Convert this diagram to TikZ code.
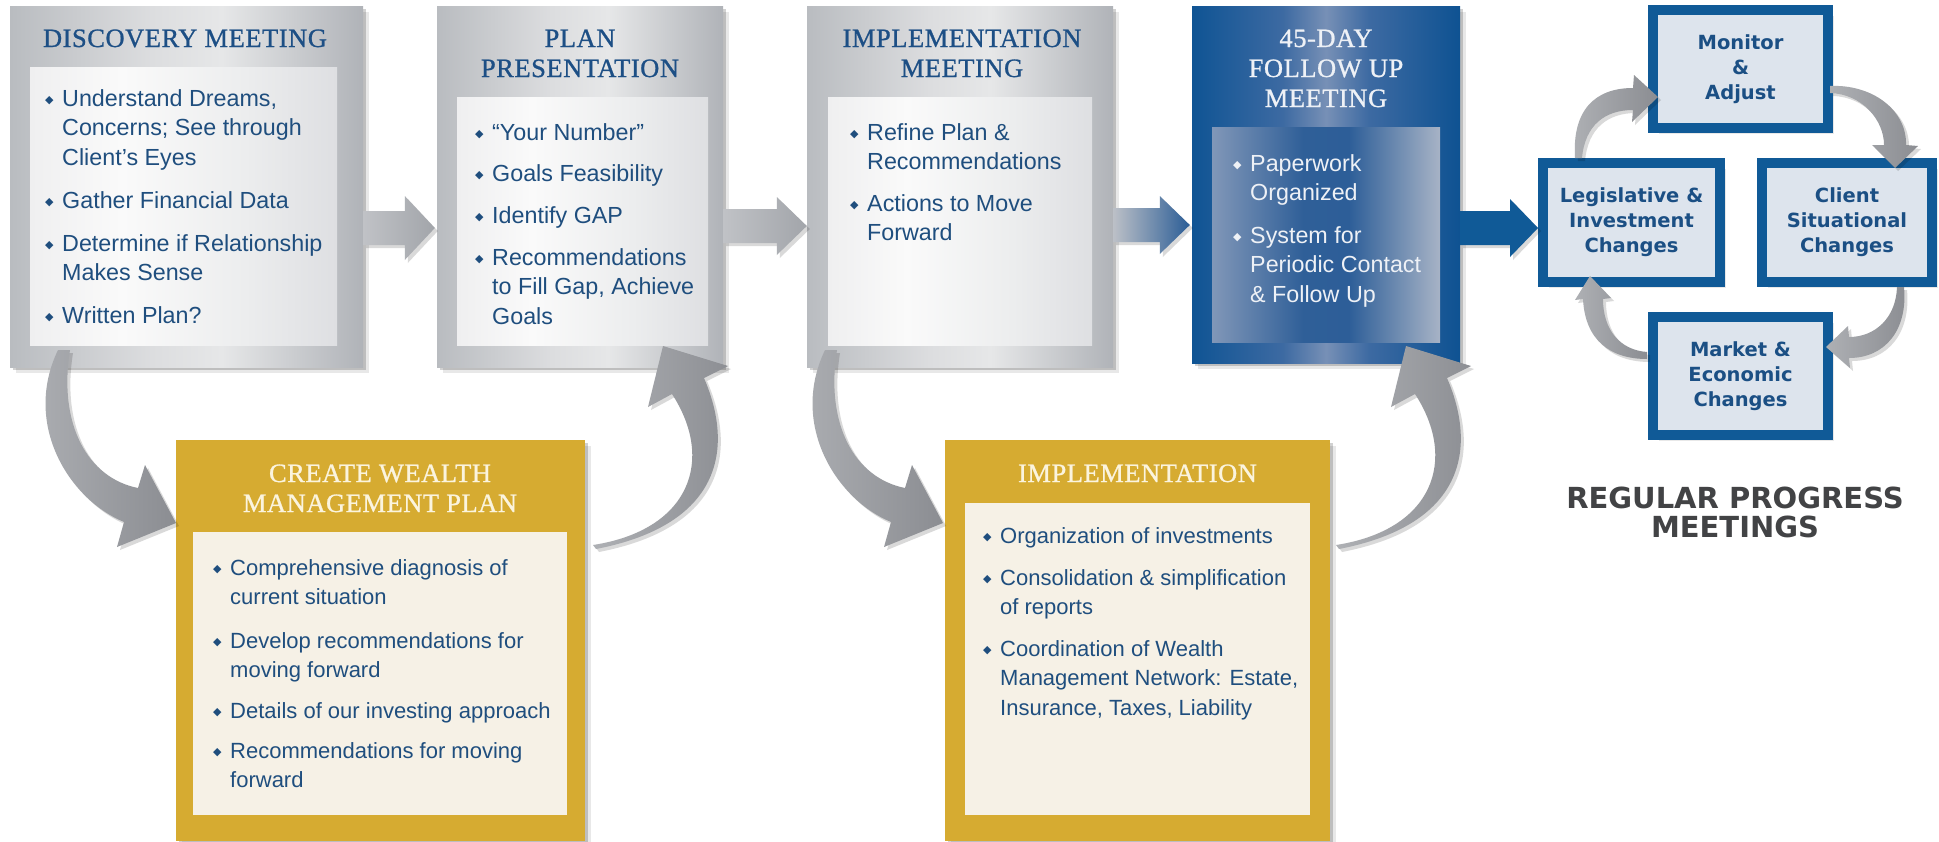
\documentclass[tikz,border=0pt]{standalone}
\usepackage{fontspec}
\setmainfont{Liberation Sans}
\newfontfamily\titlef{Liberation Serif}[LetterSpace=2.0,FakeBold=0.9]
\newfontfamily\dvs{DejaVu Sans}
\usetikzlibrary{shadows,calc}

\definecolor{tblue}{HTML}{1D4F85}
\definecolor{txtblue}{HTML}{1F4E7E}
\definecolor{rtxt}{HTML}{1B4F84}
\definecolor{gold}{HTML}{D6AB31}
\definecolor{cream}{HTML}{F6F1E6}
\definecolor{creamtxt}{HTML}{FBF4DE}
\definecolor{bblue}{HTML}{105A97}
\definecolor{lbox}{HTML}{DDE4ED}
\definecolor{dgray}{HTML}{424345}
\definecolor{m1}{HTML}{B9BCC0}
\definecolor{m2}{HTML}{DCDDDF}
\definecolor{m3}{HTML}{E6E7E8}
\definecolor{m4}{HTML}{B0B3B8}
\definecolor{p1}{HTML}{EFEFF0}
\definecolor{p2}{HTML}{FAFAFA}
\definecolor{p3}{HTML}{ECEDEE}
\definecolor{p4}{HTML}{DEDFE2}
\definecolor{b1}{HTML}{0F5494}
\definecolor{b2}{HTML}{3D6AA2}
\definecolor{b3}{HTML}{7790B6}
\definecolor{b4}{HTML}{0E5292}
\definecolor{q1}{HTML}{8197B8}
\definecolor{q2}{HTML}{2F5F98}
\definecolor{q3}{HTML}{2D5E98}
\definecolor{q4}{HTML}{A7B3C6}
\definecolor{ga1}{HTML}{C0C2C6}
\definecolor{ga2}{HTML}{A2A5AA}
\definecolor{gb1}{HTML}{BCC0C7}
\definecolor{gb2}{HTML}{2B5D96}
\definecolor{ca1}{HTML}{AEB0B4}
\definecolor{ca2}{HTML}{8B8D92}
\definecolor{whitetxt}{HTML}{EEF1F6}

\pgfdeclarehorizontalshading{metal}{100bp}{color(0bp)=(m1); color(25bp)=(m1); color(45bp)=(m2); color(55bp)=(m3); color(75bp)=(m4); color(100bp)=(m4)}
\pgfdeclarehorizontalshading{panel}{100bp}{color(0bp)=(p1); color(25bp)=(p1); color(40bp)=(p2); color(60bp)=(p3); color(75bp)=(p4); color(100bp)=(p4)}
\pgfdeclarehorizontalshading{bmetal}{100bp}{color(0bp)=(b1); color(25bp)=(b1); color(42bp)=(b2); color(50bp)=(b3); color(58bp)=(b2); color(75bp)=(b4); color(100bp)=(b4)}
\pgfdeclarehorizontalshading{bpanel}{100bp}{color(0bp)=(q1); color(25bp)=(q1); color(45bp)=(q2); color(55bp)=(q3); color(75bp)=(q4); color(100bp)=(q4)}

\newcommand{\bul}{\makebox[17pt][l]{\raisebox{2.5pt}{\dvs\fontsize{11}{11}\selectfont ◆}}}
\newcommand{\itm}[1]{\bul\begin{tabular}[t]{@{}l@{}}#1\end{tabular}}
\newcommand{\fatarrow}[7]{%
  \path[#1] ($(#2)+(0,-#4)$) -- ($(#3)+(-#6,-#4)$) -- ($(#3)+(-#6,-#5)$) -- (#3)
    -- ($(#3)+(-#6,#5)$) -- ($(#3)+(-#6,#4)$) -- ($(#2)+(0,#4)$) -- cycle;}

\tikzset{
  softshadow/.style={drop shadow={shadow xshift=3pt,shadow yshift=-3pt,opacity=.18,fill=black},
                     drop shadow={shadow xshift=6pt,shadow yshift=-6pt,opacity=.09,fill=black}},
  lightshadow/.style={drop shadow={shadow xshift=3pt,shadow yshift=-3pt,opacity=.15,fill=black}},
  graybox/.style={rectangle, inner sep=0pt, shade, shading=metal, softshadow},
  graypanel/.style={rectangle, inner sep=0pt, shade, shading=panel},
  bluebox/.style={rectangle, inner sep=0pt, shade, shading=bmetal, softshadow},
  bluepanel/.style={rectangle, inner sep=0pt, shade, shading=bpanel},
  goldbox/.style={rectangle, inner sep=0pt, fill=gold, softshadow},
  goldpanel/.style={rectangle, inner sep=0pt, fill=cream},
  itemtxt/.style={anchor=base west, inner sep=0pt, text=txtblue, font=\fontsize{23.3}{29.5}\selectfont},
  itemsmall/.style={itemtxt, font=\fontsize{22}{29.5}\selectfont},
  titletxt/.style={anchor=base, inner sep=0pt, text=tblue, font=\titlef\fontsize{26.5}{30}\selectfont},
  rbox/.style={rectangle, draw=bblue, line width=10pt, fill=lbox, inner sep=0pt, softshadow,
               align=center, text=rtxt, font=\dvs\bfseries\fontsize{19.5}{25}\selectfont},
  rptxt/.style={anchor=base, inner sep=0pt, text=dgray, font=\dvs\bfseries\fontsize{29}{30}\selectfont},
  curvearrow/.style={lightshadow, left color=ca1, right color=ca2},
}

\begin{document}
\begin{tikzpicture}[x=1pt,y=-1pt]
\useasboundingbox (0,0) rectangle (1939,841);
\fill[white] (0,0) rectangle (1939,841);

% ---------- top row boxes ----------
\node[graybox, minimum width=353pt, minimum height=361pt] (disc) at (186.5,186.5) {};
\node[graypanel, minimum width=307pt, minimum height=278pt] (discp) at (183.5,206) {};
\node[graybox, minimum width=286pt, minimum height=361pt] (plan) at (580,186.5) {};
\node[graypanel, minimum width=251pt, minimum height=248pt] (planp) at (582.5,221) {};
\node[graybox, minimum width=306pt, minimum height=361pt] (implm) at (960,186.5) {};
\node[graypanel, minimum width=264pt, minimum height=248pt] (implmp) at (960,221) {};
\node[bluebox, minimum width=268pt, minimum height=357pt] (fday) at (1326,184.5) {};
\node[bluepanel, minimum width=228pt, minimum height=215pt] (fdayp) at (1326,234.5) {};

% ---------- bottom boxes ----------
\node[goldbox, minimum width=409pt, minimum height=401pt] (cwp) at (380.5,640.5) {};
\node[goldpanel, minimum width=374pt, minimum height=283pt] (cwpp) at (380,673.5) {};
\node[goldbox, minimum width=385pt, minimum height=401pt] (impl) at (1137.5,640.5) {};
\node[goldpanel, minimum width=345pt, minimum height=312pt] (implp) at (1137.5,659) {};

% ---------- titles ----------
\node[titletxt] (t1) at (185,47) {DISCOVERY MEETING};
\node[titletxt] (t2a) at (580,47) {PLAN};
\node[titletxt] (t2b) at (580,77) {PRESENTATION};
\node[titletxt] (t3a) at (962,47) {IMPLEMENTATION};
\node[titletxt] (t3b) at (962,77) {MEETING};
\node[titletxt, text=whitetxt] (t4a) at (1326,47) {45-DAY};
\node[titletxt, text=whitetxt] (t4b) at (1326,77) {FOLLOW UP};
\node[titletxt, text=whitetxt] (t4c) at (1326,107) {MEETING};
\node[titletxt, text=creamtxt] (t5a) at (380,482) {CREATE WEALTH};
\node[titletxt, text=creamtxt] (t5b) at (380,512) {MANAGEMENT PLAN};
\node[titletxt, text=creamtxt] (t6) at (1137.5,482) {IMPLEMENTATION};

% ---------- items ----------
\node[itemtxt] (d1) at (45,106) {\itm{Understand Dreams,\\Concerns; See through\\Client’s Eyes}};
\node[itemtxt] (d2) at (45,208) {\itm{Gather Financial Data}};
\node[itemtxt] (d3) at (45,251) {\itm{Determine if Relationship\\Makes Sense}};
\node[itemtxt] (d4) at (45,323) {\itm{Written Plan?}};

\node[itemtxt] (p1) at (475,140) {\itm{“Your Number”}};
\node[itemtxt] (p2) at (475,181) {\itm{Goals Feasibility}};
\node[itemtxt] (p3) at (475,223) {\itm{Identify GAP}};
\node[itemtxt] (p4) at (475,265) {\itm{Recommendations\\to Fill Gap, Achieve\\Goals}};

\node[itemtxt] (m1) at (850,140) {\itm{Refine Plan \&\\Recommendations}};
\node[itemtxt] (m2) at (850,211) {\itm{Actions to Move\\Forward}};

\node[itemtxt, text=whitetxt] (f1) at (1233,171) {\itm{Paperwork\\Organized}};
\node[itemtxt, text=whitetxt] (f2) at (1233,243) {\itm{System for\\Periodic Contact\\\& Follow Up}};

\node[itemsmall] (c1) at (213,575) {\itm{Comprehensive diagnosis of\\current situation}};
\node[itemsmall] (c2) at (213,648) {\itm{Develop recommendations for\\moving forward}};
\node[itemsmall] (c3) at (213,718) {\itm{Details of our investing approach}};
\node[itemsmall] (c4) at (213,758) {\itm{Recommendations for moving\\forward}};

\node[itemsmall] (i1) at (983,543) {\itm{Organization of investments}};
\node[itemsmall] (i2) at (983,585) {\itm{Consolidation \& simplification\\of reports}};
\node[itemsmall] (i3) at (983,656) {\itm{Coordination of Wealth\\Management Network: Estate,\\Insurance, Taxes, Liability}};

% ---------- right cycle boxes ----------
\node[rbox, minimum width=175pt, minimum height=118pt] (mon) at (1740.5,69) {Monitor\\\&\\Adjust};
\node[rbox, minimum width=177pt, minimum height=119pt] (leg) at (1631.5,222.5) {Legislative \&\\Investment\\Changes};
\node[rbox, minimum width=170pt, minimum height=119pt] (cli) at (1847,222.5) {Client\\Situational\\Changes};
\node[rbox, minimum width=175pt, minimum height=118pt] (mkt) at (1740.5,376) {Market \&\\Economic\\Changes};

\node[rptxt] (rp1) at (1735,508) {REGULAR PROGRESS};
\node[rptxt] (rp2) at (1735,537) {MEETINGS};

% ---------- straight fat arrows ----------
\coordinate (a1s) at (disc.east |- 0,228);
\coordinate (a1e) at ($(plan.west |- 0,228)+(-2,0)$);
\fatarrow{lightshadow, left color=ga1, right color=ga2}{a1s}{a1e}{17}{32}{30}{0}
\coordinate (a2s) at (plan.east |- 0,226);
\coordinate (a2e) at (implm.west |- 0,226);
\fatarrow{lightshadow, left color=ga1, right color=ga2}{a2s}{a2e}{17}{29}{30}{0}
\coordinate (a3s) at (implm.east |- 0,225);
\coordinate (a3e) at ($(fday.west |- 0,225)+(-2,0)$);
\fatarrow{lightshadow, left color=gb1, right color=gb2}{a3s}{a3e}{17}{29}{30}{0}
\coordinate (a4s) at (fday.east |- 0,228);
\coordinate (a4e) at (leg.west |- 0,228);
\fatarrow{lightshadow, fill=bblue}{a4s}{a4e}{17}{29}{28}{0}

% ---------- curved arrows ----------
% discovery -> create wealth plan
\path[curvearrow] (58,350) .. controls (22,425) and (70,500) .. (124,522) -- (117,547) -- (176,523)
  -- (145,465) -- (138,488) .. controls (88,478) and (58,425) .. (70,350) -- cycle;
% implementation meeting -> implementation
\begin{scope}[xshift=767pt]
\path[curvearrow] (58,350) .. controls (22,425) and (70,500) .. (124,522) -- (117,547) -- (176,523)
  -- (145,465) -- (138,488) .. controls (88,478) and (58,425) .. (70,350) -- cycle;
\end{scope}
% create wealth plan -> plan presentation
\path[curvearrow] (593,545) .. controls (690,530) and (715,460) .. (672,394) -- (648,407) -- (663,346)
  -- (728,366) -- (704,378) .. controls (735,450) and (720,525) .. (596,549) -- cycle;
% implementation -> 45-day
\begin{scope}[xshift=743pt]
\path[curvearrow] (593,545) .. controls (690,530) and (715,460) .. (672,394) -- (648,407) -- (663,346)
  -- (728,366) -- (704,378) .. controls (735,450) and (720,525) .. (596,549) -- cycle;
\end{scope}

% cycle arrows
\path[curvearrow] (1582,158) .. controls (1585,125) and (1605,110) .. (1633,110) -- (1632,122) -- (1658,97)
  -- (1634,75) -- (1633,88) .. controls (1595,88) and (1572,110) .. (1575,158) -- cycle;
\path[curvearrow] (1830,86) .. controls (1872,84) and (1907,110) .. (1906,145) -- (1918,146) -- (1895,168)
  -- (1872,145) -- (1884,145) .. controls (1884,120) and (1862,94) .. (1830,93) -- cycle;
\path[curvearrow] (1904,287) .. controls (1908,330) and (1885,358) .. (1849,358) -- (1850,368) -- (1826,347)
  -- (1848,326) -- (1849,337) .. controls (1875,337) and (1896,318) .. (1897,287) -- cycle;
\path[curvearrow] (1647,352) .. controls (1620,350) and (1603,330) .. (1603,299) -- (1611,298) -- (1590,276)
  -- (1575,300) -- (1583,299) .. controls (1585,340) and (1610,359) .. (1647,359) -- cycle;
\end{tikzpicture}
\end{document}
